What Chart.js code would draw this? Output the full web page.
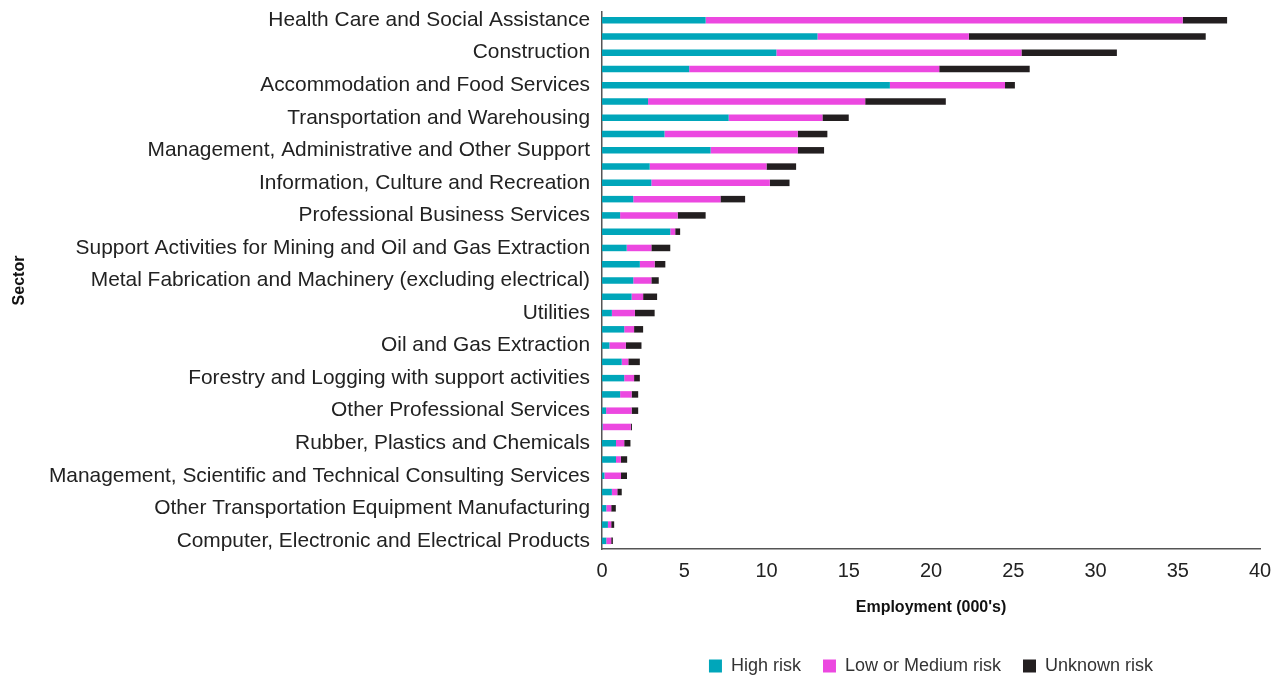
<!DOCTYPE html>
<html lang="en">
<head>
  <meta charset="UTF-8" />
  <title>Employment by sector and automation risk</title>
  <script src="https://cdn.jsdelivr.net/npm/chart.js"></script>
  <style>
    html, body { margin: 0; padding: 0; background: #fff; }
    .chart-wrap { width: 1283px; height: 677px; position: relative; }
  </style>
</head>
<body>
  <div class="chart-wrap">
    <canvas id="riskChart"></canvas>
  </div>

  <script>
    // sectors, largest first (only every other one is labelled on the axis)
    const sectors = [
      "Health Care and Social Assistance",
      "Retail Trade",
      "Construction",
      "Educational Services",
      "Accommodation and Food Services",
      "Public Administration",
      "Transportation and Warehousing",
      "Wholesale Trade",
      "Management, Administrative and Other Support",
      "Finance, Insurance and Real Estate",
      "Information, Culture and Recreation",
      "Other Services",
      "Professional Business Services",
      "Agriculture",
      "Support Activities for Mining and Oil and Gas Extraction",
      "Food, Beverage and Tobacco Manufacturing",
      "Metal Fabrication and Machinery (excluding electrical)",
      "Wood Products and Paper Manufacturing",
      "Utilities",
      "Fishing, Hunting and Trapping",
      "Oil and Gas Extraction",
      "Mining",
      "Forestry and Logging with support activities",
      "Printing and Related Activities",
      "Other Professional Services",
      "Legal Services",
      "Rubber, Plastics and Chemicals",
      "Non-Metallic Mineral Products",
      "Management, Scientific and Technical Consulting Services",
      "Furniture and Related Products",
      "Other Transportation Equipment Manufacturing",
      "Textiles and Clothing Manufacturing",
      "Computer, Electronic and Electrical Products"
    ];

    // employment, 000's
    const highRisk = [
      6.3, 13.1, 10.6, 5.3, 17.5, 2.8, 7.7, 3.8, 6.6, 2.9, 3.0,
      1.9, 1.1, 4.15, 1.5, 2.3, 1.9, 1.8, 0.6, 1.35, 0.45, 1.2,
      1.35, 1.1, 0.25, 0.03, 0.85, 0.85, 0.15, 0.6, 0.26, 0.36, 0.26
    ];
    const lowMedRisk = [
      29.0, 9.2, 14.9, 15.2, 7.0, 13.2, 5.7, 8.1, 5.3, 7.1, 7.2,
      5.3, 3.5, 0.3, 1.5, 0.9, 1.1, 0.7, 1.4, 0.6, 1.0, 0.4,
      0.6, 0.7, 1.55, 1.72, 0.5, 0.3, 1.0, 0.33, 0.3, 0.2, 0.3
    ];
    const unknownRisk = [
      2.7, 14.4, 5.8, 5.5, 0.6, 4.9, 1.6, 1.8, 1.6, 1.8, 1.2,
      1.5, 1.7, 0.3, 1.15, 0.65, 0.45, 0.85, 1.2, 0.55, 0.95, 0.7,
      0.35, 0.4, 0.4, 0.07, 0.38, 0.38, 0.37, 0.27, 0.28, 0.18, 0.1
    ];
    const seriesNames = ["High risk", "Low or Medium risk", "Unknown risk"];
    const xTicks = [0, 5, 10, 15, 20, 25, 30, 35, 40];

    const colours = ["#00a6ba", "#ec48e0", "#231f20"];
    const font = "'Liberation Sans', Arial, Helvetica, sans-serif";

    const ctx = document.getElementById("riskChart").getContext("2d");

    new Chart(ctx, {
      type: "bar",
      data: {
        labels: sectors,
        datasets: [highRisk, lowMedRisk, unknownRisk].map((vals, i) => ({
          label: seriesNames[i],
          data: vals,
          backgroundColor: colours[i],
          borderWidth: 0,
          barPercentage: 0.4,
          categoryPercentage: 1.0
        }))
      },
      options: {
        indexAxis: "y",
        responsive: true,
        maintainAspectRatio: false,
        animation: false,
        layout: { padding: { top: 12, right: 23, bottom: -8, left: 0 } },
        plugins: {
          legend: {
            position: "bottom",
            fullSize: false,
            labels: {
              boxWidth: 13,
              boxHeight: 13,
              padding: 22,
              color: "#333",
              font: { family: font, size: 18 }
            }
          },
          tooltip: { enabled: false }
        },
        scales: {
          x: {
            stacked: true,
            min: 0,
            max: 40,
            afterBuildTicks: (scale) => { scale.ticks = xTicks.map(v => ({ value: v })); },
            afterFit: (scale) => { scale.height = 86; },
            grid: { display: false, drawTicks: false },
            border: { display: true, color: "#555", width: 1.5 },
            ticks: {
              padding: 10,
              color: "#222",
              font: { family: font, size: 20 }
            },
            title: {
              display: true,
              text: "Employment (000's)",
              color: "#111",
              font: { family: font, size: 16, weight: "bold" },
              padding: { top: 0, bottom: 18 }
            }
          },
          y: {
            stacked: true,
            afterFit: (scale) => {
              scale.width = 602;
              // the top label may overhang the plot, as in the source
              scale.paddingTop = 0;
              scale.paddingBottom = 0;
            },
            grid: { display: false, drawTicks: false },
            border: { display: true, color: "#555", width: 1.5 },
            ticks: {
              autoSkip: false,
              padding: 12,
              color: "#222",
              font: { family: font, size: 20.9 },
              callback: function (value, index) {
                return index % 2 === 0 ? this.getLabelForValue(value) : "";
              }
            },
            title: {
              display: true,
              text: "Sector",
              color: "#111",
              font: { family: font, size: 16, weight: "bold" },
              padding: 10
            }
          }
        }
      }
    });
  </script>
</body>
</html>
